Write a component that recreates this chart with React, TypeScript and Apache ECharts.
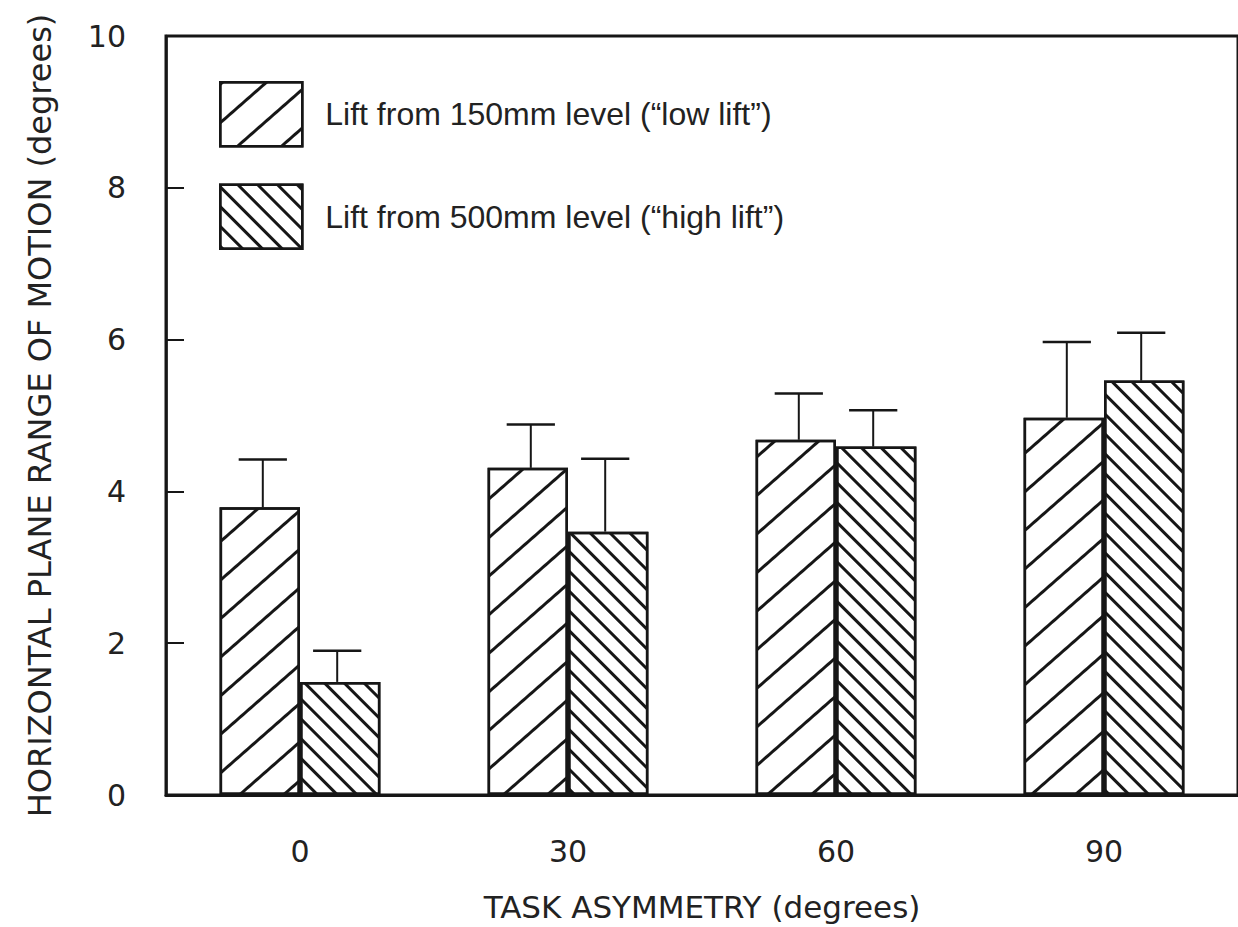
import React, { useEffect, useRef } from "react";
import * as echarts from "echarts";

// Task asymmetry categories (degrees)
const categories = ["0", "30", "60", "90"];

// Mean horizontal plane range of motion (degrees) and upper error bar extent
const lowLiftMean = [3.79, 4.31, 4.68, 4.97];
const lowLiftErr = [0.63, 0.57, 0.61, 1.0];
const highLiftMean = [1.49, 3.47, 4.59, 5.46];
const highLiftErr = [0.41, 0.96, 0.48, 0.63];

const yTicks = { min: 0, max: 10, interval: 2 };

const seriesNames = [
  "Lift from 150mm level (\u201Clow lift\u201D)",
  "Lift from 500mm level (\u201Chigh lift\u201D)",
];

const INK = "#161616";
const CATEGORY_GAP = 0.4;
const AXIS_FONT = "DejaVu Sans";

const hatch = (rotation: number, gap: number) => ({
  symbol: "rect",
  symbolSize: 1,
  dashArrayX: [1, 0],
  dashArrayY: [2.2, gap],
  rotation,
  color: INK,
  backgroundColor: "#ffffff",
});

// "/" hatching for the low lift, denser "\" hatching for the high lift
const lowHatch = hatch(-0.72, 26);
const highHatch = hatch(Math.PI / 4, 11);

// Upward-only error bar ("T") drawn over one of the paired bars
const errorBarRenderer = (side: number) => (params: any, api: any) => {
  const cat = api.value(0);
  const mean = api.value(1);
  const err = api.value(2);
  const bandWidth = api.size([1, 0])[0];
  const barW = (bandWidth * (1 - CATEGORY_GAP)) / 2;
  const base = api.coord([cat, mean]);
  const top = api.coord([cat, mean + err]);
  const x = base[0] + (side * barW) / 2 - 3 * side;
  const half = barW * 0.3;
  return {
    type: "group",
    children: [
      {
        type: "line",
        shape: { x1: x, y1: base[1], x2: x, y2: top[1] },
        style: { stroke: INK, lineWidth: 2 },
      },
      {
        type: "line",
        shape: { x1: x - half, y1: top[1], x2: x + half, y2: top[1] },
        style: { stroke: INK, lineWidth: 2.5 },
      },
    ],
  };
};

export default function App() {
  const ref = useRef<HTMLDivElement>(null);

  useEffect(() => {
    if (!ref.current) return;
    const chart = echarts.init(ref.current, null, { renderer: "svg" });

    const barStyle = (decal: any) => ({
      color: "#ffffff",
      borderColor: INK,
      borderWidth: 2.5,
      decal,
    });

    chart.setOption({
      animation: false,
      backgroundColor: "#ffffff",
      grid: {
        left: 166,
        top: 36,
        width: 1074,
        height: 765,
        show: true,
        borderColor: INK,
        borderWidth: 3,
        backgroundColor: "transparent",
      },
      legend: {
        data: seriesNames,
        orient: "vertical",
        left: 214,
        top: 76,
        itemWidth: 82,
        itemHeight: 64,
        itemGap: 36,
        icon: "rect",
        selectedMode: false,
        itemStyle: { borderColor: INK, borderWidth: 2.5 },
        textStyle: {
          fontFamily: "Liberation Sans",
          fontSize: 32,
          color: "#222",
          padding: [0, 0, 0, 18],
        },
      },
      xAxis: {
        type: "category",
        data: categories,
        name: "TASK ASYMMETRY (degrees)",
        nameLocation: "middle",
        nameGap: 96,
        nameTextStyle: { fontFamily: AXIS_FONT, fontSize: 31, color: "#222" },
        axisLine: { lineStyle: { color: INK, width: 3 } },
        axisTick: { show: false },
        axisLabel: {
          fontFamily: AXIS_FONT,
          fontSize: 30,
          color: "#222",
          margin: 41,
        },
        splitLine: { show: false },
      },
      yAxis: {
        type: "value",
        min: yTicks.min,
        max: yTicks.max,
        interval: yTicks.interval,
        name: "HORIZONTAL PLANE RANGE OF MOTION (degrees)",
        nameLocation: "middle",
        nameGap: 110,
        nameTextStyle: { fontFamily: AXIS_FONT, fontSize: 32, color: "#222" },
        axisLine: { show: true, lineStyle: { color: INK, width: 2.5 } },
        axisTick: {
          show: true,
          inside: true,
          length: 18,
          lineStyle: { color: INK, width: 2 },
        },
        axisLabel: {
          fontFamily: AXIS_FONT,
          fontSize: 30,
          color: "#222",
          margin: 40,
        },
        splitLine: { show: false },
      },
      series: [
        {
          name: seriesNames[0],
          type: "bar",
          data: lowLiftMean,
          barGap: "0%",
          barCategoryGap: `${CATEGORY_GAP * 100}%`,
          itemStyle: barStyle(lowHatch),
        },
        {
          name: seriesNames[1],
          type: "bar",
          data: highLiftMean,
          barGap: "0%",
          barCategoryGap: `${CATEGORY_GAP * 100}%`,
          itemStyle: barStyle(highHatch),
        },
        {
          type: "custom",
          renderItem: errorBarRenderer(-1),
          data: lowLiftMean.map((m, i) => [i, m, lowLiftErr[i]]),
          encode: { x: 0, y: 1 },
          z: 5,
        },
        {
          type: "custom",
          renderItem: errorBarRenderer(1),
          data: highLiftMean.map((m, i) => [i, m, highLiftErr[i]]),
          encode: { x: 0, y: 1 },
          z: 5,
        },
      ],
    });

    return () => chart.dispose();
  }, []);

  return (
    <div
      ref={ref}
      style={{ position: "absolute", left: 0, top: 0, width: 1238, height: 927 }}
    />
  );
}
